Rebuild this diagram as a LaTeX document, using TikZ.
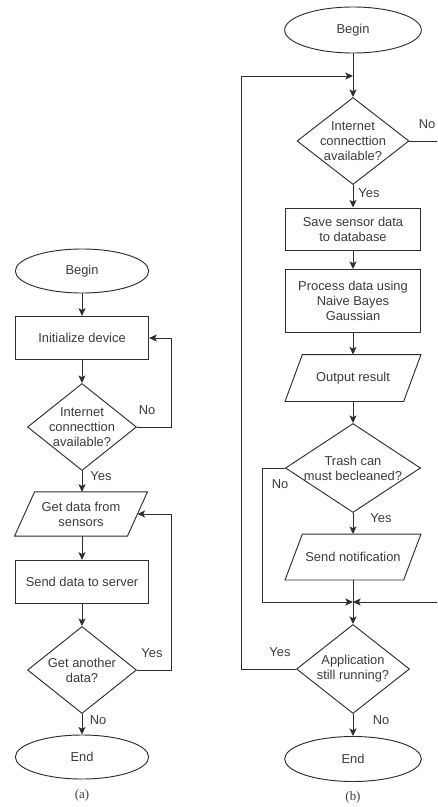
\documentclass[tikz,border=0pt]{standalone}
\usepackage{fontspec}
\setmainfont{Liberation Sans}
\newfontfamily\capfont{Liberation Serif}
\usetikzlibrary{shapes.geometric,arrows.meta}
\definecolor{flowLine}{HTML}{2E2E2E}
\definecolor{flowText}{HTML}{3A3A3A}

\begin{document}
\begin{tikzpicture}[x=0.03cm,y=-0.03cm]
  \tikzset{
    base/.style={draw=flowLine,line width=0.8pt,text=flowText,font=\fontsize{11}{12.8}\selectfont,align=center},
    terminal/.style={base,ellipse,inner sep=0pt,minimum width=4.0cm,minimum height=1.32cm},
    process/.style={base,rectangle,inner sep=0pt,minimum width=4.0cm,minimum height=1.3cm},
    io/.style={base,draw=none,rectangle,inner sep=0pt,minimum width=4.05cm,minimum height=1.35cm},
    outline/.style={draw=flowLine,line width=0.8pt},
    decision/.style={base,diamond,inner sep=-9pt,minimum width=3.27cm,minimum height=2.61cm},
    lbl/.style={text=flowText,font=\fontsize{11}{12.8}\selectfont},
    caption/.style={text=flowText,font=\capfont\fontsize{11}{13}\selectfont},
    flow/.style={draw=flowLine,line width=0.8pt,-{Stealth[length=6.5pt,width=6pt,inset=1.5pt]}},
    link/.style={draw=flowLine,line width=0.8pt}
  }
  \useasboundingbox (0,0) rectangle (437,807);
  \clip (0,0) rectangle (437,807);

  % (a) device side
  \node[terminal] (beginA) at (82,271) {Begin};
  \node[process] (init) at (82,338) {Initialize device};
  \node[decision] (netA) at (82,427) {Internet\\connecttion\\available?};
  \node[io,minimum width=3.96cm,minimum height=1.3cm] (getdata) at (81,514) {Get data from\\sensors};
  \node[process] (senddata) at (82,582) {Send data to server};
  \node[decision] (another) at (82,670) {Get another\\data?};
  \node[terminal] (endA) at (82,757) {End};
  \node[caption] (capA) at (82,795) {(a)};

  \draw[flow] (beginA) -- (init);
  \draw[flow] (init) -- (netA);
  \draw[flow] (netA) -- (netA |- getdata.north);
  \draw[flow] (netA |- getdata.south) -- (senddata);
  \draw[flow] (senddata) -- (another);
  \draw[flow] (another) -- (endA);
  \draw[flow] (netA.east) -- ++(34,0) |- (init.east);
  \draw[flow] (another.east) -- ++(34,0) |- ([xshift=-0.3cm]getdata.east);

  \node[lbl] (noA1) at (147,410) {No};
  \node[lbl] (yesA1) at (101,476) {Yes};
  \node[lbl] (yesA2) at (152,653) {Yes};
  \node[lbl] (noA2) at (98,720) {No};

  % (b) server side
  \node[terminal,minimum width=4.1cm,minimum height=1.38cm] (beginB) at (353,30) {Begin};
  \coordinate (loopin) at (353,76);
  \node[decision,minimum width=3.36cm] (netB) at (353,141) {Internet\\connecttion\\available?};
  \node[process,minimum width=4.05cm,minimum height=1.26cm] (save) at (353,229) {Save sensor data\\to database};
  \node[process,minimum width=4.05cm,minimum height=1.89cm] (bayes) at (353,301) {Process data using\\Naive Bayes\\Gaussian};
  \node[io,minimum height=1.38cm] (result) at (353,378) {Output result};
  \node[decision,minimum width=4.05cm,minimum height=2.67cm] (trash) at (353,468) {Trash can\\must becleaned?};
  \node[io] (notify) at (353,557) {Send notification};
  \coordinate (merge) at (353,602);
  \node[decision,minimum width=3.39cm,minimum height=2.67cm] (running) at (353,669) {Application\\still running?};
  \node[terminal,minimum width=4.1cm,minimum height=1.35cm] (endB) at (353,759) {End};
  \node[caption] (capB) at (353,797) {(b)};

  % slanted outlines of the input/output boxes
  \foreach \n/\s in {getdata/0.6,result/0.52,notify/0.52}
    {\draw[outline] ([xshift=\s cm]\n.north west) -- (\n.north east)
       -- ([xshift=-\s cm]\n.south east) -- (\n.south west) -- cycle;}

  \draw[flow] (beginB) -- (netB);
  \draw[flow] (netB) -- (save);
  \draw[flow] (save) -- (bayes);
  \draw[flow] (bayes) -- (result);
  \draw[flow] (result) -- (trash);
  \draw[flow] (trash) -- (notify);
  \draw[link] (notify) -- (merge);
  \draw[flow] (merge) -- (running);
  \draw[flow] (running) -- (endB);
  \draw[flow] (netB.east) -- ++(31,0) |- (merge);
  \draw[flow] (trash.west) -- ++(-23,0) |- (merge);
  \draw[flow] (running.west) -- ++(-55,0) |- (loopin);

  \node[lbl] (noB1) at (427,124) {No};
  \node[lbl] (yesB1) at (369,193) {Yes};
  \node[lbl] (noB2) at (280,484) {No};
  \node[lbl] (yesB2) at (381,518) {Yes};
  \node[lbl] (yesB3) at (280,652) {Yes};
  \node[lbl] (noB3) at (381,720) {No};
\end{tikzpicture}
\end{document}
